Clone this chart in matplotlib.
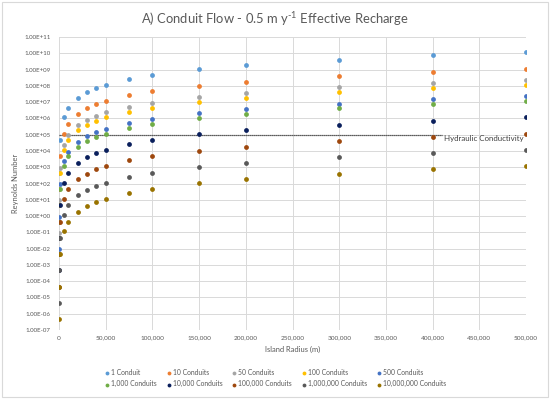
import matplotlib
matplotlib.use("Agg")
import matplotlib.pyplot as plt
from matplotlib.patches import Rectangle
from matplotlib.ticker import FixedLocator, FuncFormatter, NullLocator

plt.rcParams['font.family'] = ['Lato', 'DejaVu Sans']
plt.rcParams['mathtext.fontset'] = 'custom'
plt.rcParams['mathtext.rm'] = 'Lato'

# island radius (m), shared by every series
radius = [10, 100, 1000, 5000, 10000, 20000, 30000, 40000, 50000, 75000,
          100000, 150000, 200000, 300000, 400000, 500000]

# Reynolds number, one list per conduit count
re_1 = [4.6, 4.6e2, 4.6e4, 1.15e6, 4.6e6, 1.84e7, 4.1e7, 7.4e7, 1.15e8, 2.6e8,
        4.6e8, 1.03e9, 1.84e9, 4.1e9, 7.4e9, 1.15e10]
re_10 = [0.46, 46, 4.6e3, 1.15e5, 4.6e5, 1.84e6, 4.1e6, 7.4e6, 1.15e7, 2.6e7,
         4.6e7, 1.03e8, 1.84e8, 4.1e8, 7.4e8, 1.15e9]
re_50 = [0.092, 9.2, 920, 2.3e4, 9.2e4, 3.7e5, 8.2e5, 1.48e6, 2.3e6, 5.2e6,
         9.2e6, 2.06e7, 3.7e7, 8.2e7, 1.48e8, 2.3e8]
re_100 = [0.046, 4.6, 460, 1.15e4, 4.6e4, 1.84e5, 4.1e5, 7.4e5, 1.15e6, 2.6e6,
          4.6e6, 1.03e7, 1.84e7, 4.1e7, 7.4e7, 1.15e8]
re_500 = [0.0092, 0.92, 92, 2300, 9200, 3.7e4, 8.2e4, 1.48e5, 2.3e5, 5.2e5,
          9.2e5, 2.06e6, 3.7e6, 8.2e6, 1.48e7, 2.3e7]
re_1k = [0.0046, 0.46, 46, 1150, 4600, 1.84e4, 4.1e4, 7.4e4, 1.15e5, 2.6e5,
         4.6e5, 1.03e6, 1.84e6, 4.1e6, 7.4e6, 1.15e7]
re_10k = [4.6e-4, 0.046, 4.6, 115, 460, 1840, 4100, 7400, 1.15e4, 2.6e4,
          4.6e4, 1.03e5, 1.84e5, 4.1e5, 7.4e5, 1.15e6]
re_100k = [4.6e-5, 4.6e-3, 0.46, 11.5, 46, 184, 410, 740, 1150, 2600,
           4600, 1.03e4, 1.84e4, 4.1e4, 7.4e4, 1.15e5]
re_1m = [4.6e-6, 4.6e-4, 0.046, 1.15, 4.6, 18.4, 41, 74, 115, 260,
         460, 1030, 1840, 4100, 7400, 1.15e4]
re_10m = [4.6e-7, 4.6e-5, 4.6e-3, 0.115, 0.46, 1.84, 4.1, 7.4, 11.5, 26,
          46, 103, 184, 410, 740, 1150]

labels = ['1 Conduit', '10 Conduits', '50 Conduits', '100 Conduits',
          '500 Conduits', '1,000 Conduits', '10,000 Conduits',
          '100,000 Conduits', '1,000,000 Conduits', '10,000,000 Conduits']
series = [re_1, re_10, re_50, re_100, re_500, re_1k, re_10k, re_100k,
          re_1m, re_10m]
colors = ['#5B9BD5', '#ED7D31', '#A5A5A5', '#FFC000', '#4472C4',
          '#70AD47', '#0A1F5C', '#9E480E', '#595959', '#997300']

# hydraulic conductivity reference line
hk_x = [0, 410000]
hk_y = [1e5, 1e5]

txt = '#595959'
fig = plt.figure(figsize=(5.5, 3.99), dpi=100)
fig.patches.append(Rectangle((0.003, 0.004), 0.993, 0.99, transform=fig.transFigure,
                             fill=False, edgecolor='#D9D9D9', linewidth=0.8))
ax = fig.add_axes([0.1073, 0.1729, 0.8491, 0.7344])

handles = []
for ys, lab, c in zip(series, labels, colors):
    h = ax.scatter(radius, ys, s=12, color=c, label=lab, zorder=3, linewidths=0)
    handles.append(h)

ax.plot(hk_x, hk_y, color='#333333', linestyle=(0, (1, 0.6)), linewidth=0.9, zorder=2)
ax.text(412000, 1e5, 'Hydraulic Conductivity', fontsize=5.7, color='#404040',
        va='top', ha='left', zorder=4)

ax.set_yscale('log')
ax.set_ylim(1e-7, 1e11)
ax.set_xlim(0, 500000)
ax.yaxis.set_major_locator(FixedLocator([10.0 ** k for k in range(-7, 12)]))
ax.yaxis.set_minor_locator(NullLocator())
ax.yaxis.set_major_formatter(FuncFormatter(
    lambda v, p: '{:.2E}'.format(v)))
ax.xaxis.set_major_locator(FixedLocator(range(0, 500001, 50000)))
ax.xaxis.set_major_formatter(FuncFormatter(lambda v, p: '{:,.0f}'.format(v)))

ax.grid(True, color='#D9D9D9', linewidth=0.7, zorder=0)
ax.set_axisbelow(True)
for sp in ax.spines.values():
    sp.set_visible(False)
ax.tick_params(axis='y', length=0, labelsize=4.4, labelcolor=txt, pad=6)
ax.tick_params(axis='x', length=0, labelsize=4.6, labelcolor=txt, pad=4)

ax.set_xlabel('Island Radius (m)', fontsize=5.4, color=txt, labelpad=4)
ax.set_ylabel('Reynolds Number', fontsize=5.4, color=txt, labelpad=4)
fig.text(0.5, 0.952, r'A) Conduit Flow - 0.5 m y$^{\text{-1}}$ Effective Recharge',
         ha='center', va='center', fontsize=9.4, color=txt)

# legend runs row-wise in the original; matplotlib fills column-wise
order = [0, 5, 1, 6, 2, 7, 3, 8, 4, 9]
fig.legend([handles[i] for i in order], [labels[i] for i in order],
           ncol=5, loc='upper center', bbox_to_anchor=(0.5, 0.083),
           frameon=False, fontsize=4.9, labelcolor=txt, handletextpad=0.1,
           columnspacing=1.25, markerscale=0.8, borderaxespad=0, handlelength=1.0,
           labelspacing=0.7)

fig.savefig('out.png', dpi=100)
